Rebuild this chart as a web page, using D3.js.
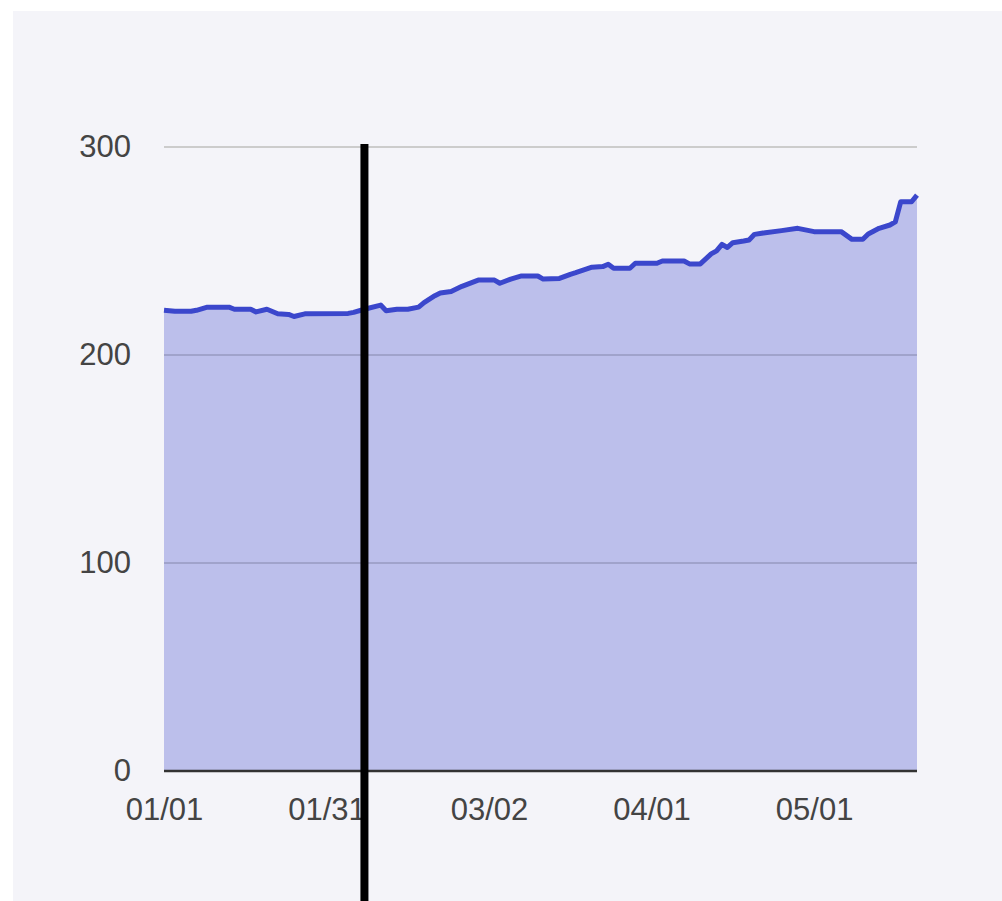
<!DOCTYPE html>
<meta charset="utf-8">
<style>

body {
  margin: 0;
  background: #fff;
}

.tick text {
  font-family: "Liberation Sans", Arial, sans-serif;
  font-size: 31px;
  fill: #444;
}

</style>
<svg width="1002" height="901"></svg>
<script src="https://d3js.org/d3.v7.min.js"></script>
<script>

// readings (mm/dd, value)
var dates = ["01/01","01/03","01/06","01/07","01/09","01/13","01/14","01/17","01/18","01/20",
  "01/22","01/24","01/25","01/27","02/04","02/05","02/07","02/10","02/11","02/13",
  "02/15","02/17","02/18","02/20","02/21","02/23","02/25","02/28","03/03","03/04",
  "03/06","03/08","03/11","03/12","03/15","03/17","03/18","03/21","03/23","03/24",
  "03/25","03/28","03/29","04/02","04/03","04/07","04/08","04/10","04/12","04/13",
  "04/14","04/15","04/16","04/18","04/19","04/20","04/22","04/25","04/28","05/01",
  "05/06","05/08","05/10","05/11","05/13","05/15","05/16","05/17","05/19","05/20"]

var values = [221.5,221,221,221.5,223,223,222,222,220.7,222,
  219.8,219.5,218.5,219.8,220,220.5,222,224,221.3,222,
  222,223,225.2,228.5,229.8,230.5,233,236,236,234.5,
  236.5,238,238,236.5,236.8,238.8,239.6,242.2,242.5,243.6,
  241.7,241.7,244.1,244.1,245.2,245.2,243.8,243.8,248.6,250.1,
  253.2,251.7,254,254.8,255.3,258,258.8,259.8,260.9,259.3,
  259.3,255.6,255.6,258.2,260.9,262.5,264,273.7,273.7,276.9]

var xTicks = ["01/01","01/31","03/02","04/01","05/01"]
var yTicks = [0, 100, 200, 300]
var markerDate = "02/07"
var startDate = "01/01", endDate = "05/20"

var parse = d3.timeParse("%m/%d")

var data = dates.map(function(d, i) {
  return {date: parse(d), value: values[i]}
})

var svg = d3.select("svg")

// panel
svg.append("rect")
  .attr("x", 13)
  .attr("y", 11)
  .attr("width", 1002 - 13)
  .attr("height", 901 - 11)
  .attr("fill", "#f4f4f9")

var x = d3.scaleTime()
    .domain([parse(startDate), parse(endDate)])
    .range([164, 917])

var y = d3.scaleLinear()
    .domain([0, 300])
    .range([771, 147])

// gridlines
svg.append("g")
  .selectAll("line")
  .data(yTicks.filter(function(d) { return d > 0 }))
  .enter().append("line")
    .attr("x1", x.range()[0])
    .attr("x2", x.range()[1])
    .attr("y1", function(d) { return y(d) })
    .attr("y2", function(d) { return y(d) })
    .attr("stroke", "#cccccc")
    .attr("stroke-width", 2)

var area = d3.area()
    .x(function(d) { return x(d.date) })
    .y0(y(0))
    .y1(function(d) { return y(d.value) })

var line = d3.line()
    .x(function(d) { return x(d.date) })
    .y(function(d) { return y(d.value) })

svg.append("path")
  .datum(data)
  .attr("d", area)
  .attr("fill", "#3b47c9")
  .attr("fill-opacity", 0.3)

svg.append("path")
  .datum(data)
  .attr("d", line)
  .attr("fill", "none")
  .attr("stroke", "#3b47cc")
  .attr("stroke-width", 5)
  .attr("stroke-linejoin", "round")

// baseline
svg.append("line")
  .attr("x1", x.range()[0])
  .attr("x2", x.range()[1])
  .attr("y1", y(0))
  .attr("y2", y(0))
  .attr("stroke", "#333")
  .attr("stroke-width", 2.5)

// y axis labels
svg.append("g")
  .attr("transform", "translate(164, 0)")
  .call(d3.axisLeft(y).tickValues(yTicks).tickSize(0).tickPadding(33).tickFormat(d3.format("d")))
  .call(function(g) { g.select(".domain").remove() })

// x axis labels
svg.append("g")
  .attr("transform", "translate(0, 771)")
  .call(d3.axisBottom(x).tickValues(xTicks.map(parse)).tickSize(0).tickPadding(27).tickFormat(d3.timeFormat("%m/%d")))
  .call(function(g) { g.select(".domain").remove() })

// marker
svg.append("line")
  .attr("x1", x(parse(markerDate)))
  .attr("x2", x(parse(markerDate)))
  .attr("y1", 144)
  .attr("y2", 901)
  .attr("stroke", "#000")
  .attr("stroke-width", 8)

</script>
